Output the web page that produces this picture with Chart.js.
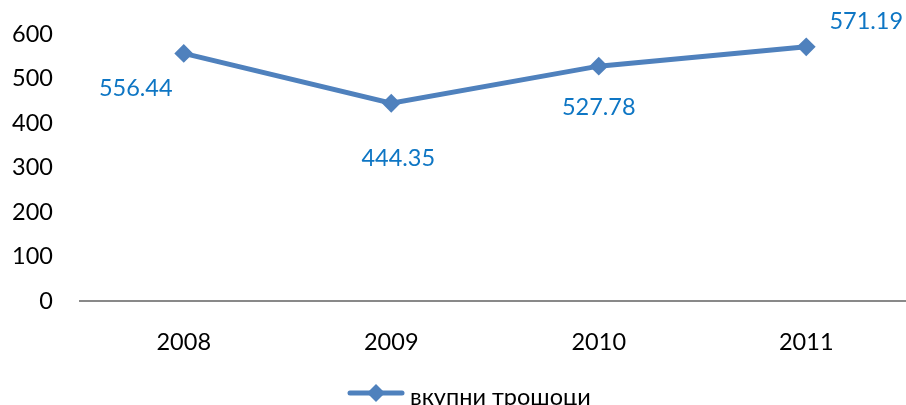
<!DOCTYPE html>
<html>
<head>
<meta charset="utf-8">
<script src="https://cdn.jsdelivr.net/npm/chart.js@4.4.1/dist/chart.umd.min.js"></script>
<style>
    html, body { margin: 0; padding: 0; background: #fff; overflow: hidden; }
    #wrap { width: 906px; height: 405px; overflow: hidden; position: relative; }
    #costChart { position: absolute; left: 0; top: 0; }
</style>
</head>
<body>
<div id="wrap"><canvas id="costChart" width="920" height="420"></canvas></div>
<script>
const years = ['2008', '2009', '2010', '2011'];
const totalCosts = [556.44, 444.35, 527.78, 571.19];
const yTicks = [0, 100, 200, 300, 400, 500, 600];
const seriesName = 'вкупни трошоци';

const lineColor = '#4F81BD';
const labelColor = '#0E76C4';
const fontFamily = 'Lato, "Open Sans", sans-serif';
const fontSize = 23.5;

// where each value label sits relative to its point
const labelOffsets = [[-48, 35], [7, 55], [0, 41], [60, -25]];

const valueLabels = {
    id: 'valueLabels',
    afterDatasetsDraw(chart) {
        const ctx = chart.ctx;
        const meta = chart.getDatasetMeta(0);
        ctx.save();
        ctx.fillStyle = labelColor;
        ctx.font = fontSize + 'px ' + fontFamily;
        ctx.textAlign = 'center';
        ctx.textBaseline = 'middle';
        meta.data.forEach((pt, i) => {
            const off = labelOffsets[i];
            ctx.fillText(totalCosts[i].toFixed(2), pt.x + off[0], pt.y + off[1]);
        });
        ctx.restore();
    }
};

// legend drawn by hand: line with a diamond, then the name
const bottomLegend = {
    id: 'bottomLegend',
    afterDraw(chart) {
        const ctx = chart.ctx;
        const y = 393;
        ctx.save();
        ctx.strokeStyle = lineColor;
        ctx.lineWidth = 5;
        ctx.lineCap = 'round';
        ctx.beginPath();
        ctx.moveTo(350, y);
        ctx.lineTo(402, y);
        ctx.stroke();
        ctx.fillStyle = lineColor;
        ctx.beginPath();
        ctx.moveTo(376 - 9, y);
        ctx.lineTo(376, y - 9);
        ctx.lineTo(376 + 9, y);
        ctx.lineTo(376, y + 9);
        ctx.closePath();
        ctx.fill();
        ctx.fillStyle = '#000';
        ctx.font = fontSize + 'px ' + fontFamily;
        ctx.textAlign = 'left';
        ctx.textBaseline = 'middle';
        ctx.fillText(seriesName, 410, y + 4);
        ctx.restore();
    }
};

new Chart(document.getElementById('costChart'), {
    type: 'line',
    data: {
        labels: years,
        datasets: [{
            label: seriesName,
            data: totalCosts,
            borderColor: lineColor,
            backgroundColor: lineColor,
            borderWidth: 5,
            pointStyle: 'rectRot',
            pointRadius: 8,
            pointBorderWidth: 2,
            pointBorderColor: lineColor,
            pointBackgroundColor: lineColor,
            tension: 0
        }]
    },
    options: {
        responsive: false,
        animation: false,
        layout: { padding: { top: 34, right: 0, left: 0, bottom: 0 } },
        plugins: {
            legend: { display: false },
            tooltip: { enabled: false }
        },
        scales: {
            x: {
                offset: true,
                grid: { display: false, drawTicks: false },
                border: { display: true, color: '#898989', width: 2 },
                ticks: { color: '#000', padding: 27, font: { size: fontSize, family: fontFamily } },
                afterFit(scale) {
                    scale.height = 119;
                    scale.paddingLeft = 0;
                    scale.paddingRight = 0;
                }
            },
            y: {
                min: 0,
                max: 600,
                afterBuildTicks(scale) { scale.ticks = yTicks.map(v => ({ value: v })); },
                grid: { display: false, drawTicks: false },
                border: { display: false },
                ticks: { color: '#000', padding: 27, font: { size: fontSize, family: fontFamily } },
                afterFit(scale) {
                    scale.width = 80;
                    scale.paddingTop = 0;
                    scale.paddingBottom = 0;
                }
            }
        }
    },
    plugins: [valueLabels, bottomLegend]
});
</script>
</body>
</html>
